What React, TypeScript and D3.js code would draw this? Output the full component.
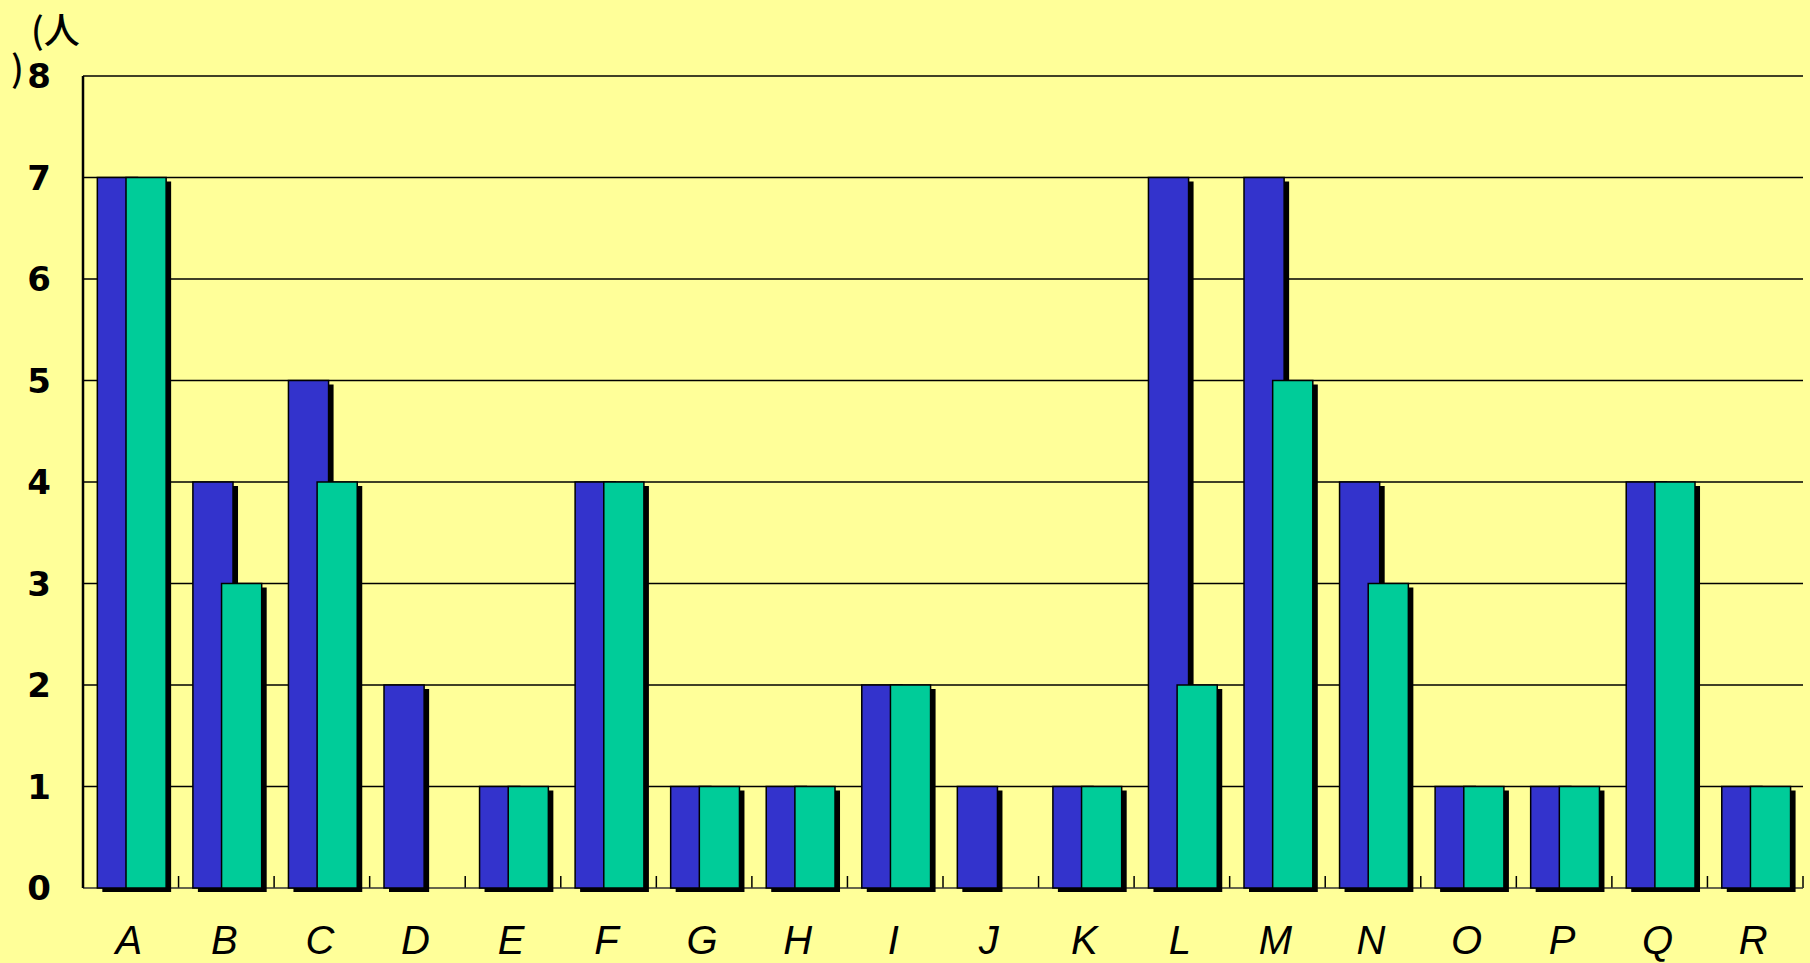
import React, { useEffect, useRef } from 'react';
import * as d3 from 'd3';

const categories = ['A', 'B', 'C', 'D', 'E', 'F', 'G', 'H', 'I', 'J', 'K', 'L', 'M', 'N', 'O', 'P', 'Q', 'R'];
const seriesBlue = [7, 4, 5, 2, 1, 4, 1, 1, 2, 1, 1, 7, 7, 4, 1, 1, 4, 1];
const seriesGreen = [7, 3, 4, 0, 1, 4, 1, 1, 2, 0, 1, 2, 5, 3, 1, 1, 4, 1];
const yTicks = [0, 1, 2, 3, 4, 5, 6, 7, 8];
const colors = ['#3333CC', '#00CC99'];

const App: React.FC = () => {
  const ref = useRef<SVGSVGElement>(null);

  useEffect(() => {
    const width = 1810;
    const height = 963;
    const margin = { top: 76, right: 7, bottom: 75, left: 83 };

    const svg = d3.select(ref.current);
    svg.selectAll('*').remove();

    svg.append('rect').attr('width', width).attr('height', height).attr('fill', '#FFFF99');

    const x = d3.scaleBand<string>()
      .domain(categories)
      .range([margin.left, width - margin.right]);

    const y = d3.scaleLinear()
      .domain([0, 8])
      .range([height - margin.bottom, margin.top]);

    const bw = x.bandwidth();
    const barW = bw * 0.42;
    const offsets = [-bw * 0.35, -bw * 0.05];

    // gridlines
    svg.append('g')
      .selectAll('line')
      .data(yTicks.filter((d) => d > 0))
      .enter()
      .append('line')
      .attr('x1', margin.left)
      .attr('x2', width - margin.right)
      .attr('y1', (d) => y(d))
      .attr('y2', (d) => y(d))
      .attr('stroke', '#000')
      .attr('stroke-width', 1.5);

    // category ticks
    svg.append('g')
      .selectAll('line')
      .data(categories.concat(['end']))
      .enter()
      .append('line')
      .attr('x1', (d, i) => margin.left + i * bw)
      .attr('x2', (d, i) => margin.left + i * bw)
      .attr('y1', y(0))
      .attr('y2', y(0) - 12)
      .attr('stroke', '#000')
      .attr('stroke-width', 1.5);

    // baseline
    svg.append('line')
      .attr('x1', margin.left)
      .attr('x2', width - margin.right)
      .attr('y1', y(0))
      .attr('y2', y(0))
      .attr('stroke', '#333')
      .attr('stroke-width', 1.5);

    const series = [seriesBlue, seriesGreen];
    series.forEach((vals, s) => {
      const g = svg.append('g');
      const items = vals
        .map((v, i) => ({ cat: categories[i], v }))
        .filter((d) => d.v > 0);

      // shadow
      g.selectAll('rect.shadow')
        .data(items)
        .enter()
        .append('rect')
        .attr('class', 'shadow')
        .attr('x', (d) => (x(d.cat) as number) + bw / 2 + offsets[s] + 5)
        .attr('y', (d) => y(d.v) + 4)
        .attr('width', barW)
        .attr('height', (d) => y(0) - y(d.v))
        .attr('fill', '#000');

      g.selectAll('rect.bar')
        .data(items)
        .enter()
        .append('rect')
        .attr('class', 'bar')
        .attr('x', (d) => (x(d.cat) as number) + bw / 2 + offsets[s])
        .attr('y', (d) => y(d.v))
        .attr('width', barW)
        .attr('height', (d) => y(0) - y(d.v))
        .attr('fill', colors[s])
        .attr('stroke', '#000')
        .attr('stroke-width', 1.5);
    });

    // left axis
    svg.append('line')
      .attr('x1', margin.left)
      .attr('x2', margin.left)
      .attr('y1', y(8))
      .attr('y2', y(0))
      .attr('stroke', '#000')
      .attr('stroke-width', 2.5);

    // y labels
    svg.append('g')
      .selectAll('text')
      .data(yTicks)
      .enter()
      .append('text')
      .attr('x', 51)
      .attr('y', (d) => y(d))
      .attr('dy', '0.36em')
      .attr('text-anchor', 'end')
      .attr('font-family', 'DejaVu Sans')
      .attr('font-weight', 'bold')
      .attr('font-size', 34)
      .text((d) => String(d));

    // x labels
    svg.append('g')
      .selectAll('text')
      .data(categories)
      .enter()
      .append('text')
      .attr('x', (d) => (x(d) as number) + bw / 2 - 2)
      .attr('y', 954)
      .attr('text-anchor', 'middle')
      .attr('font-family', 'Liberation Sans')
      .attr('font-style', 'italic')
      .attr('font-size', 40)
      .text((d) => d);

    // unit label
    svg.append('text')
      .attr('x', 31)
      .attr('y', 44)
      .attr('font-family', 'Noto Sans CJK JP')
      .attr('font-weight', 500)
      .attr('font-size', 36)
      .text('(人');
    svg.append('text')
      .attr('x', 11)
      .attr('y', 82)
      .attr('font-family', 'Noto Sans CJK JP')
      .attr('font-weight', 500)
      .attr('font-size', 36)
      .text(')');
  }, []);

  return (
    <div style={{ position: 'fixed', left: 0, top: 0 }}>
      <svg ref={ref} width={1810} height={963}></svg>
    </div>
  );
};

export default App;
